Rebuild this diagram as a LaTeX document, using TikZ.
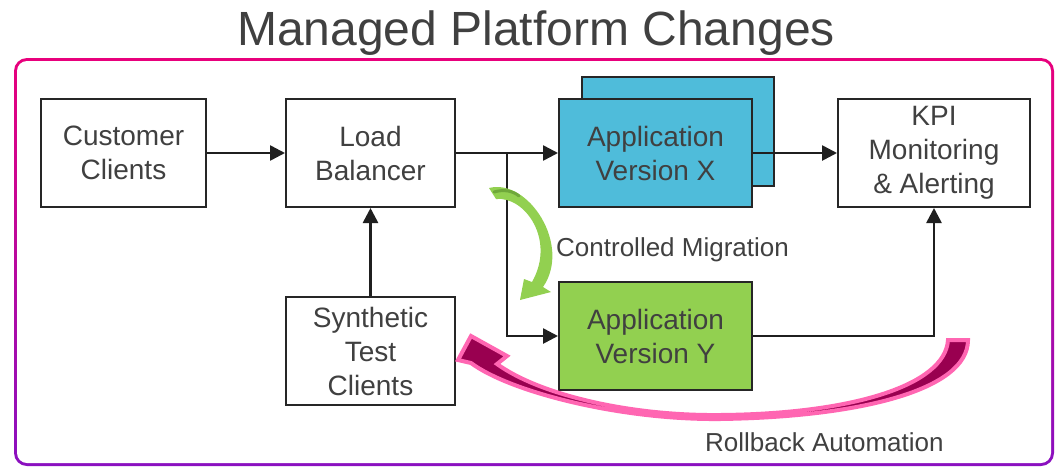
\documentclass[tikz,border=0pt]{standalone}
\usepackage{fontspec}
\setmainfont{Liberation Sans}
\usetikzlibrary{arrows.meta}
\definecolor{txt}{HTML}{404040}
\definecolor{boxline}{HTML}{262626}
\definecolor{appblue}{HTML}{4FBCDA}
\definecolor{appgreen}{HTML}{92D050}
\definecolor{darkgreen}{HTML}{6FA83A}
\definecolor{hotpink}{HTML}{FF66B2}
\definecolor{darkmag}{HTML}{990050}
\definecolor{framepink}{HTML}{E8007C}
\definecolor{framepurple}{HTML}{8A10C0}
\tikzset{
  box/.style={rectangle, draw=boxline, line width=2pt, inner sep=0pt,
    minimum height=108pt, align=center, text=txt,
    font=\fontsize{28}{34}\selectfont},
  conn/.style={draw=black!88, line width=2.6pt,
    -{Triangle[length=15pt,width=15pt]}},
  label/.style={text=txt, font=\fontsize{26}{31}\selectfont, inner sep=0pt}
}
\begin{document}
\begin{tikzpicture}[x=1pt,y=-1pt]
\useasboundingbox (0,0) rectangle (1057,467);
\fill[white] (0,0) rectangle (1057,467);
% frame
\shade[top color=framepink, bottom color=framepurple, rounded corners=13pt] (14,58) rectangle (1054,466);
\fill[white, rounded corners=10pt] (17,61) rectangle (1051,463);
% title
\node[anchor=base, text=txt, font=\fontsize{48}{58}\selectfont, inner sep=0pt] (title) at (536,45) {Managed Platform Changes};
% boxes
\node[box, minimum width=165pt] (cust) at (123.5,153) {Customer\\Clients};
\node[box, minimum width=169pt] (lb) at (370.5,153) {Load\\Balancer};
\node[box, minimum width=192pt, minimum height=109pt, fill=appblue] (appxback) at (678,131.5) {};
\node[box, minimum width=193pt, fill=appblue] (appx) at (655.5,153) {Application\\Version X};
\node[box, minimum width=192pt] (kpi) at (934,153) {KPI\\Monitoring\\\&~Alerting};
\node[box, minimum width=169pt] (syn) at (370.5,351) {Synthetic\\Test\\Clients};
\node[box, minimum width=193pt, fill=appgreen] (appy) at (655.5,336) {Application\\Version Y};
% connectors
\coordinate (br) at (507,153);
\draw[conn] (cust) -- (lb);
\draw[conn] (lb) -- (appx);
\draw[conn] (br) |- (appy.west);
\draw[conn] (appx) -- (kpi);
\draw[conn] (syn) -- (lb);
\draw[conn] (appy.east) -| (kpi.south);
% green curved arrow
\fill[appgreen] (489,188) .. controls (528,178) and (572,245) .. (543,287)
  -- (551,292) -- (520,300) -- (524,279) -- (532,282)
  .. controls (556,240) and (525,196) .. (496,199) -- cycle;
\draw[darkgreen, line width=3pt, line cap=round] (494,192) .. controls (504,189) and (513,191) .. (519,196);
\node[label, anchor=west] (cm) at (556,250) {Controlled Migration};
% rollback arrow
\filldraw[fill=darkmag, draw=hotpink, line width=4pt, line join=miter, miter limit=4]
  (471,363) .. controls (510,392) and (620,420) .. (720,419)
  .. controls (860,417) and (968,390) .. (968,340)
  -- (948,340)
  .. controls (945,386) and (850,414) .. (720,415)
  .. controls (630,416) and (540,395) .. (497,364)
  -- (507,356) -- (471,336) -- (458,360) -- cycle;
\node[label, anchor=west] (ra) at (705,442) {Rollback Automation};
\end{tikzpicture}
\end{document}
